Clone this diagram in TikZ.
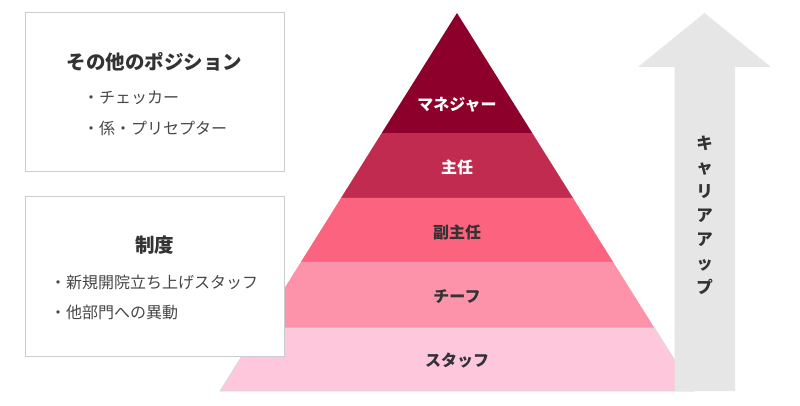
\documentclass[tikz,border=0pt]{standalone}
\usepackage{fontspec}
\setmainfont{Noto Sans CJK JP}
\usetikzlibrary{calc,positioning}

\definecolor{mgrred}{HTML}{8E002C}
\definecolor{chiefred}{HTML}{C22B50}
\definecolor{subred}{HTML}{FC637F}
\definecolor{leadpink}{HTML}{FD93AA}
\definecolor{staffpink}{HTML}{FEC7DC}
\definecolor{arrowgray}{HTML}{E6E6E6}
\definecolor{boxline}{HTML}{CCCCCC}
\definecolor{ink}{HTML}{333333}

\tikzset{
  infobox/.style={draw=boxline, fill=white, line width=1pt, inner sep=0pt,
    minimum width=259pt, minimum height=159pt},
  boxtitle/.style={inner sep=0pt, text=ink, font=\fontsize{19.5}{22}\selectfont\bfseries},
  boxitem/.style={inner sep=0pt, anchor=west, text=ink!90, font=\fontsize{16}{18}\selectfont},
  layer/.style={inner sep=0pt, font=\fontsize{16}{18}\selectfont\bfseries},
}

\begin{document}
\begin{tikzpicture}[x=1pt, y=-1pt]
  \useasboundingbox (0,0) rectangle (800,406);

  % pyramid
  \coordinate (top) at (457,13);
  \coordinate (bl) at (220,391);
  \coordinate (br) at (694,391);
  \coordinate (l1) at ($(top)!0.3175!(bl)$);
  \coordinate (r1) at ($(top)!0.3175!(br)$);
  \coordinate (l2) at ($(top)!0.4894!(bl)$);
  \coordinate (r2) at ($(top)!0.4894!(br)$);
  \coordinate (l3) at ($(top)!0.6587!(bl)$);
  \coordinate (r3) at ($(top)!0.6587!(br)$);
  \coordinate (l4) at ($(top)!0.8333!(bl)$);
  \coordinate (r4) at ($(top)!0.8333!(br)$);

  \fill[mgrred] (top) -- (r1) -- (l1) -- cycle;
  \fill[chiefred] (l1) -- (r1) -- (r2) -- (l2) -- cycle;
  \fill[subred] (l2) -- (r2) -- (r3) -- (l3) -- cycle;
  \fill[leadpink] (l3) -- (r3) -- (r4) -- (l4) -- cycle;
  \filldraw[fill=staffpink, draw=black!15, line width=0.8pt] (l4) -- (r4) -- (br) -- (bl) -- cycle;

  % career arrow
  \fill[arrowgray] (674.5,391) -- (674.5,67) -- (638,67) -- (704.5,13)
    -- (771,67) -- (735,67) -- (735,391) -- cycle;

  \node[layer, text=white] (mgr) at (457,105) {マネジャー};
  \node[layer, text=white] (chief) at (457,167) {主任};
  \node[layer, text=ink] (sub) at (457,232) {副主任};
  \node[layer, text=ink] (lead) at (457,297) {チーフ};
  \node[layer, text=ink] (staff) at (457,361) {スタッフ};

  \node[inner sep=0pt, align=center, text=ink, font=\fontsize{16.5}{24}\selectfont\bfseries]
    (up) at (704.5,215) {キ\\ャ\\リ\\ア\\ア\\ッ\\プ};

  % side boxes
  \node[infobox] (other) at (154.5,92.5) {};
  \node[boxtitle] (otherT) at (154.5,62) {その他のポジション};
  \node[boxitem] (chk) at (83,98) {・チェッカー};
  \node[boxitem] (pre) at (83,128) {・係・プリセプター};

  \node[infobox] (sys) at (154.5,276.5) {};
  \node[boxtitle] (sysT) at (154.5,245) {制度};
  \node[boxitem] (newc) at (50,282) {・新規開院立ち上げスタッフ};
  \node[boxitem] (move) at (50,312) {・他部門への異動};
\end{tikzpicture}
\end{document}
